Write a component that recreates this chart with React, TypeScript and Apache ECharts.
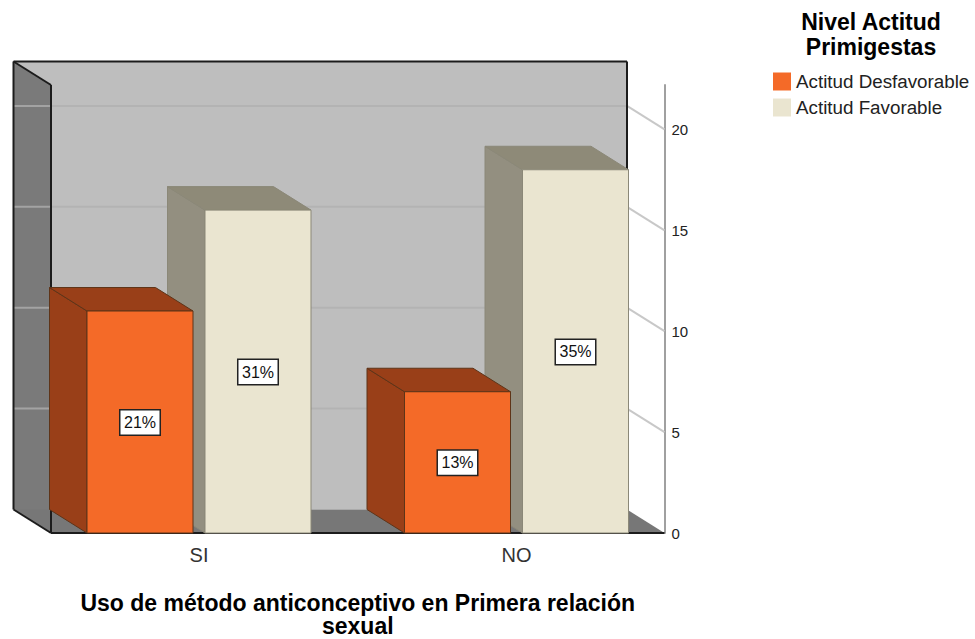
import React, { useEffect, useRef } from "react";
import * as echarts from "echarts";

const categories = ["SI", "NO"];
const unfavorableValues = [11, 7];
const favorableValues = [16, 18];
const unfavorableLabels = ["21%", "13%"];
const favorableLabels = ["31%", "35%"];
const axisTicks = [0, 5, 10, 15, 20];
const gridTicks = [5, 10, 15, 20];
const FONT = '"Liberation Sans", Arial, sans-serif';

const DX = -37.5;
const DY = -23.5;
const BAR_W = 106;
const BAR_GAP = 12;
const GRID_LEFT = 40.25;
const GRID_W = 635;
const INSET = 10.75;

function barRenderer(side: number, labels: string[], c: any) {
  return (params: any, api: any) => {
    const i = api.value(0);
    const [cx, yTop] = api.coord([i, api.value(1)]);
    const [, yBase] = api.coord([i, 0]);
    const x0 = side < 0 ? cx - BAR_GAP / 2 - BAR_W : cx + BAR_GAP / 2;
    const x1 = x0 + BAR_W;
    const line = { stroke: c.edge, lineWidth: 1 };
    return {
      type: "group",
      children: [
        {
          type: "polygon",
          shape: { points: [[x0, yTop], [x0 + DX, yTop + DY], [x0 + DX, yBase + DY], [x0, yBase]] },
          style: { fill: c.side, ...line },
        },
        {
          type: "polygon",
          shape: { points: [[x0, yTop], [x0 + DX, yTop + DY], [x1 + DX, yTop + DY], [x1, yTop]] },
          style: { fill: c.top, ...line },
        },
        {
          type: "rect",
          shape: { x: x0, y: yTop, width: BAR_W, height: yBase - yTop },
          style: { fill: c.front, ...line },
        },
        {
          type: "text",
          style: {
            text: labels[params.dataIndex],
            x: (x0 + x1) / 2,
            y: (yTop + yBase) / 2 + 0.5,
            align: "center",
            verticalAlign: "middle",
            fill: "#111",
            font: `16px ${FONT}`,
            backgroundColor: "#fff",
            borderColor: "#222",
            borderWidth: 1.5,
            padding: [4, 3.5, 4, 3.5],
          },
        },
      ],
    };
  };
}

function frameRenderer(params: any, api: any) {
  const cs = params.coordSys;
  const L = cs.x + INSET;
  const R = cs.x + cs.width - INSET;
  const T = cs.y;
  const B = cs.y + cs.height;
  const black = { stroke: "#1c1c1c", lineWidth: 2 };
  const children: any[] = [
    {
      type: "rect",
      shape: { x: L + DX, y: T + DY, width: R - L, height: B - T },
      style: { fill: "#bebebe" },
    },
    {
      type: "polygon",
      shape: { points: [[L + DX, T + DY], [L, T], [L, B], [L + DX, B + DY]] },
      style: { fill: "#7a7a7a" },
    },
    {
      type: "polygon",
      shape: { points: [[L + DX, B + DY], [R + DX, B + DY], [R, B], [L, B]] },
      style: { fill: "#777777" },
    },
  ];
  gridTicks.forEach((v) => {
    const y = api.coord([0, v])[1];
    children.push(
      { type: "line", shape: { x1: L, y1: y + DY, x2: R + DX, y2: y + DY }, style: { stroke: "#b3b3b3", lineWidth: 2 } },
      { type: "line", shape: { x1: L + DX, y1: y + DY, x2: L, y2: y + DY }, style: { stroke: "#a3a3a3", lineWidth: 2 } },
      { type: "line", shape: { x1: R + DX, y1: y + DY, x2: R, y2: y }, style: { stroke: "#c8c8c8", lineWidth: 2 } }
    );
  });
  children.push(
    { type: "line", shape: { x1: L + DX, y1: T + DY, x2: R + DX, y2: T + DY }, style: black },
    { type: "line", shape: { x1: R + DX, y1: T + DY, x2: R + DX, y2: B + DY }, style: black },
    { type: "line", shape: { x1: L + DX, y1: T + DY, x2: L + DX, y2: B + DY }, style: black },
    { type: "line", shape: { x1: L + DX, y1: T + DY, x2: L, y2: T }, style: black },
    { type: "line", shape: { x1: L, y1: T, x2: L, y2: B }, style: black },
    { type: "line", shape: { x1: L + DX, y1: B + DY, x2: L, y2: B }, style: black },
    { type: "line", shape: { x1: L, y1: B, x2: R, y2: B }, style: black }
  );
  return { type: "group", children };
}

const ORANGE = { front: "#f46a28", side: "#993f18", top: "#993f18", edge: "#5e3418" };
const CREAM = { front: "#eae5d0", side: "#938f80", top: "#8e8a78", edge: "#8b8878" };

export default function App() {
  const ref = useRef<HTMLDivElement>(null);
  useEffect(() => {
    const chart = echarts.init(ref.current!, null, { renderer: "svg" });
    chart.setOption({
      animation: false,
      backgroundColor: "#fff",
      title: {
        text: "Nivel Actitud\nPrimigestas",
        left: 871,
        top: 9,
        padding: 0,
        textAlign: "center",
        textStyle: { fontFamily: FONT, fontSize: 23, fontWeight: "bold", color: "#000", lineHeight: 25 },
      },
      legend: {
        data: [
          { name: "Actitud Desfavorable", icon: "rect" },
          { name: "Actitud Favorable", icon: "rect" },
        ],
        orient: "vertical",
        left: 773,
        top: 72,
        padding: 0,
        itemWidth: 18,
        itemHeight: 18,
        itemGap: 7,
        selectedMode: false,
        textStyle: { fontFamily: FONT, fontSize: 18.8, color: "#222" },
      },
      grid: { left: GRID_LEFT, width: GRID_W, top: 85, height: 448, outerBoundsMode: "none" },
      xAxis: {
        type: "category",
        data: categories,
        axisLine: { show: false },
        axisTick: { show: false },
        axisLabel: { fontFamily: FONT, fontSize: 20, color: "#333", margin: 12 },
        name: "Uso de método anticonceptivo en Primera relación\nsexual",
        nameLocation: "middle",
        nameGap: 58,
        nameTextStyle: { fontFamily: FONT, fontSize: 23, fontWeight: "bold", color: "#000", lineHeight: 23.5 },
      },
      yAxis: {
        type: "value",
        position: "right",
        offset: -INSET,
        min: 0,
        max: 22.2,
        interval: 5,
        splitLine: { show: false },
        axisTick: { show: false },
        axisLine: { show: true, lineStyle: { color: "#a0a0a0", width: 2 } },
        axisLabel: { customValues: axisTicks, fontFamily: FONT, fontSize: 15, color: "#222", margin: 7 },
      },
      series: [
        { type: "custom", name: "frame", z: 1, silent: true, data: [[0, 0]], encode: { x: 0, y: 1 }, renderItem: frameRenderer },
        {
          type: "custom",
          name: "Actitud Favorable",
          z: 2,
          itemStyle: { color: CREAM.front },
          encode: { x: 0, y: 1 },
          data: favorableValues.map((v, i) => [i, v]),
          renderItem: barRenderer(1, favorableLabels, CREAM),
        },
        {
          type: "custom",
          name: "Actitud Desfavorable",
          z: 3,
          itemStyle: { color: ORANGE.front },
          encode: { x: 0, y: 1 },
          data: unfavorableValues.map((v, i) => [i, v]),
          renderItem: barRenderer(-1, unfavorableLabels, ORANGE),
        },
      ],
    });
    return () => chart.dispose();
  }, []);
  return <div ref={ref} style={{ position: "fixed", left: 0, top: 0, width: 975, height: 639 }} />;
}
